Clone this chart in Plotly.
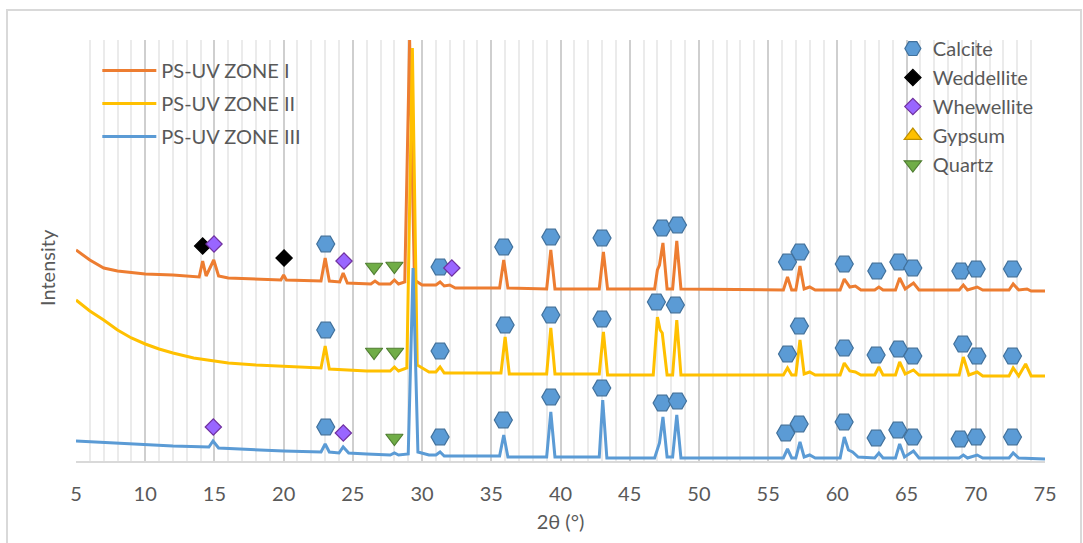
import plotly.graph_objects as go

# ---------------- data (2θ in degrees, intensity in arbitrary units) ----------------
zone1_x = [5.0, 6.0, 7.0, 8.0, 10.0, 12.0, 13.9, 14.15, 14.4, 14.95, 15.3, 16.0, 19.8, 20.0, 20.2,
           22.7, 23.0, 23.3, 24.05, 24.3, 24.6, 26.3, 26.6, 26.9, 27.7, 28.0, 28.3, 28.75, 29.1, 29.45,
           30.0, 31.0, 31.3, 31.6, 32.0, 32.4, 35.6, 35.9, 36.2, 39.0, 39.3, 39.6, 42.8, 43.1, 43.4,
           46.8, 47.0, 47.15, 47.4, 47.7, 48.1, 48.4, 48.7, 56.1, 56.4, 56.7, 57.0, 57.3, 57.6, 58.0,
           58.4, 60.2, 60.5, 60.9, 61.3, 61.7, 62.7, 63.0, 63.3, 64.2, 64.5, 64.9, 65.5, 65.9, 68.8,
           69.1, 69.4, 70.1, 70.5, 72.4, 72.7, 73.1, 73.7, 74.0, 75.0]
zone1_y = [211, 201, 193, 190, 187, 186, 184, 200, 185, 201, 185, 183, 181, 186, 181,
           180, 203, 180, 179, 188, 178, 177, 180, 177, 177, 181, 177, 179, 421, 181,
           176, 176, 179, 175, 176, 173, 173, 201, 173, 172, 211, 172, 172, 209, 172,
           172, 191, 196, 218, 172, 172, 220, 172, 171, 184, 171, 171, 195, 172, 174,
           171, 171, 182, 174, 175, 171, 171, 174, 171, 171, 183, 172, 178, 171, 171,
           176, 171, 174, 171, 171, 177, 171, 172, 170, 170]

zone2_x = [5.0, 6.0, 7.0, 8.0, 9.0, 10.0, 11.0, 12.0, 13.5, 15.0, 16.0, 18.0, 20.0, 22.7, 23.0,
           23.3, 26.0, 27.7, 28.0, 28.3, 28.9, 29.3, 29.65, 30.5, 31.0, 31.3, 31.6, 35.7, 36.0, 36.3,
           39.0, 39.3, 39.6, 42.8, 43.1, 43.4, 46.7, 47.0, 47.2, 47.35, 47.7, 48.1, 48.4, 48.7, 56.1,
           56.4, 56.7, 57.0, 57.3, 57.6, 58.0, 58.4, 60.2, 60.5, 60.9, 61.3, 61.7, 62.7, 63.0, 63.3,
           64.2, 64.5, 64.9, 65.5, 65.9, 68.8, 69.1, 69.5, 70.1, 70.5, 72.4, 72.7, 73.1, 73.6, 74.0,
           75.0]
zone2_y = [161, 150, 141, 131, 123, 117, 112, 108, 103, 100, 98, 96, 95, 93, 115,
           92, 90, 90, 94, 90, 93, 413, 96, 89, 89, 94, 88, 88, 124, 87,
           87, 133, 87, 87, 129, 86, 86, 144, 131, 128, 86, 86, 141, 86, 86,
           93, 86, 86, 121, 87, 89, 86, 86, 98, 90, 89, 86, 86, 94, 86,
           86, 99, 87, 91, 86, 86, 104, 86, 89, 85, 85, 93, 85, 97, 85,
           85]

zone3_x = [5.0, 8.0, 10.0, 12.0, 14.6, 14.9, 15.3, 18.0, 20.0, 22.7, 23.0, 23.3, 24.0, 24.3, 24.7,
           26.0, 27.7, 28.0, 28.3, 29.0, 29.35, 29.7, 30.5, 31.0, 31.3, 31.6, 35.6, 35.9, 36.2, 39.0,
           39.3, 39.6, 42.8, 43.05, 43.35, 46.8, 47.0, 47.15, 47.4, 47.7, 48.1, 48.4, 48.7, 56.1, 56.4,
           56.7, 57.0, 57.3, 57.6, 58.0, 58.4, 60.2, 60.5, 60.8, 61.1, 61.5, 62.7, 63.0, 63.3, 64.2,
           64.5, 64.85, 65.5, 65.9, 68.8, 69.1, 69.4, 70.1, 70.5, 72.4, 72.7, 73.1, 75.0]
zone3_y = [20, 18, 16, 15, 14, 20, 13, 11, 10, 9, 17, 9, 8, 14, 8,
           7, 6, 8, 6, 7, 193, 9, 6, 6, 9, 5, 5, 26, 4, 4,
           49, 4, 4, 61, 3, 3, 13, 18, 44, 4, 4, 46, 3, 3, 12,
           3, 3, 19, 4, 6, 3, 3, 24, 11, 9, 4, 3, 8, 3, 3,
           17, 4, 10, 3, 3, 6, 3, 6, 3, 3, 8, 3, 2]

# phase markers
calcite_x = [29.07,
             23.04, 31.3, 35.9, 39.3, 43.0, 47.34, 48.45, 56.4, 57.3, 60.5, 62.85, 64.44, 65.45, 68.92, 70.03, 72.65,
             23.04, 31.3, 36.0, 39.3, 43.0, 46.93, 48.3, 56.4, 57.26, 60.5, 62.8, 64.42, 65.45, 69.06, 70.08, 72.65,
             23.04, 31.3, 35.87, 39.3, 42.98, 47.34, 48.45, 56.27, 57.24, 60.49, 62.8, 64.37, 65.45, 68.87, 70.03, 72.65]
calcite_y = [434,
             217, 194, 214, 224, 223, 233, 236, 199, 209, 197, 190, 199, 193, 190, 192, 192,
             131, 110, 136, 146, 142, 159, 156, 107, 135, 113, 106, 112, 105, 117, 105, 105,
             34, 24, 41, 64, 73, 58, 60, 28, 37, 39, 23, 31, 24, 22, 24, 24]
weddellite_x = [14.15, 20.03]
weddellite_y = [215, 203]
whewellite_x = [14.97, 24.36, 32.15, 14.92, 24.31]
whewellite_y = [217, 200, 193, 34, 28]
gypsum_x = [None]
gypsum_y = [None]
quartz_x = [26.53, 28.0, 26.53, 28.05, 28.0]
quartz_y = [194, 195, 109, 109, 23]

series_names = ["PS-UV ZONE I", "PS-UV ZONE II", "PS-UV ZONE III"]
series_colors = ["#ED7D31", "#FFC000", "#5B9BD5"]

FONT = "Lato, 'Open Sans', sans-serif"
GREY = "#595959"

fig = go.Figure()
for name, xs, ys, col in zip(series_names, [zone1_x, zone2_x, zone3_x],
                             [zone1_y, zone2_y, zone3_y], series_colors):
    fig.add_trace(go.Scatter(x=xs, y=ys, mode="lines", name=name,
                             line=dict(color=col, width=3), legend="legend",
                             legendgroup=name))

markers = [
    ("Calcite", calcite_x, calcite_y, "hexagon2", 18, "#5B9BD5", "#41719C"),
    ("Weddellite", weddellite_x, weddellite_y, "diamond", 12.5, "#000000", "#000000"),
    ("Whewellite", whewellite_x, whewellite_y, "diamond", 12.5, "#9966FF", "#7030A0"),
    ("Gypsum", gypsum_x, gypsum_y, "triangle-up", 15, "#FFC000", "#BF9000"),
    ("Quartz", quartz_x, quartz_y, "triangle-down", 15, "#70AD47", "#507E32"),
]
for name, xs, ys, sym, size, fill, edge in markers:
    fig.add_trace(go.Scatter(x=xs, y=ys, mode="markers", name=name, legend="legend2",
                             cliponaxis=False,
                             marker=dict(symbol=sym, size=size, color=fill,
                                         line=dict(color=edge, width=1.2))))

fig.update_layout(
    width=1083, height=543,
    margin=dict(l=76, r=38, t=40, b=82),
    paper_bgcolor="white", plot_bgcolor="white",
    font=dict(family=FONT, size=20, color=GREY),
    legend=dict(x=0.022, y=0.974, xanchor="left", yanchor="top", itemwidth=54,
                bgcolor="rgba(0,0,0,0)", traceorder="grouped", tracegroupgap=4,
                font=dict(size=20, color=GREY)),
    legend2=dict(x=0.843, y=1.026, xanchor="left", yanchor="top",
                 bgcolor="rgba(0,0,0,0)", itemsizing="trace",
                 font=dict(size=20, color=GREY)),
    xaxis=dict(range=[5, 75], dtick=5, tick0=5, showgrid=True, gridcolor="#CFCFCF", gridwidth=2,
               minor=dict(dtick=1, showgrid=True, gridcolor="#EBEBEB", gridwidth=1.5),
               showline=True, linecolor="#D9D9D9", linewidth=2, zeroline=False,
               ticks="", ticklabelstandoff=14, tickfont=dict(size=20, color=GREY),
               title=dict(text="2θ (°)", standoff=11, font=dict(size=20, color=GREY))),
    yaxis=dict(range=[0, 421], showgrid=False, zeroline=False, showticklabels=False,
               ticks="", showline=False),
    annotations=[dict(text="Intensity", xref="paper", yref="paper",
                      x=(47 - 76) / 969, y=(461 - 268) / 421, textangle=-90,
                      showarrow=False, xanchor="center", yanchor="middle",
                      font=dict(size=20, color=GREY))],
    shapes=[dict(type="rect", xref="paper", yref="paper",
                 x0=(7 - 76) / 969, x1=(1081 - 76) / 969, y0=(461 - 580) / 421, y1=(461 - 10) / 421,
                 line=dict(color="#D9D9D9", width=2), fillcolor="rgba(0,0,0,0)", layer="below")],
)

fig.write_html("out.html", config={"displayModeBar": False},
               post_script="document.body.style.margin='0px';")
